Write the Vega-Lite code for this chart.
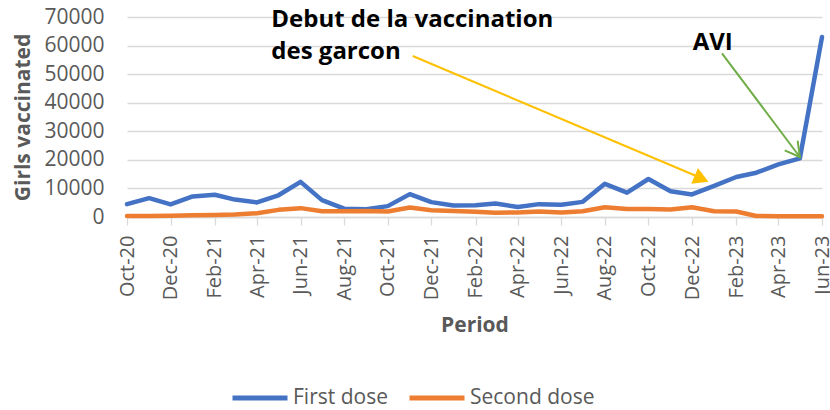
{
  "$schema": "https://vega.github.io/schema/vega-lite/v6.json",
  "width": 695,
  "height": 200,
  "autosize": {"type": "none"},
  "padding": {"left": 127, "top": 17, "right": 8, "bottom": 193},
  "background": "white",
  "config": {
    "view": {"stroke": null},
    "font": "Open Sans",
    "axisY": {
      "tickCount": 12,
      "format": "d",
      "titleFont": "Open Sans", "titleFontSize": 21, "titleFontWeight": "bold", "titleColor": "#595959",
      "titlePadding": 10,
      "labelFont": "Open Sans", "labelFontSize": 21, "labelColor": "#595959",
      "labelPadding": 23, "labelOverlap": false, "labelBound": false, "labelFlush": false,
      "ticks": false, "domain": false,
      "grid": true, "gridColor": "#D9D9D9", "gridWidth": 1.3
    },
    "axisX": {
      "tickCount": 40,
      "format": "%b-%y",
      "titleFont": "Open Sans", "titleFontSize": 21, "titleFontWeight": "bold", "titleColor": "#595959",
      "titlePadding": 14,
      "labelAngle": -90, "labelAlign": "right", "labelBaseline": "middle",
      "labelFont": "Open Sans", "labelFontSize": 20, "labelColor": "#595959",
      "labelPadding": 10, "labelOverlap": false, "labelFlush": false, "labelBound": false,
      "tickSize": 8, "tickColor": "#D9D9D9", "tickWidth": 1.3,
      "domainColor": "#D9D9D9", "domainWidth": 1.3,
      "grid": false
    }
  },
  "datasets": {
    "series": [
      {"month": "2020-10-01T00:00:00", "dose": "First dose", "girls": 4500},
      {"month": "2020-11-01T00:00:00", "dose": "First dose", "girls": 6600},
      {"month": "2020-12-01T00:00:00", "dose": "First dose", "girls": 4400},
      {"month": "2021-01-01T00:00:00", "dose": "First dose", "girls": 7200},
      {"month": "2021-02-01T00:00:00", "dose": "First dose", "girls": 7800},
      {"month": "2021-03-01T00:00:00", "dose": "First dose", "girls": 6100},
      {"month": "2021-04-01T00:00:00", "dose": "First dose", "girls": 5100},
      {"month": "2021-05-01T00:00:00", "dose": "First dose", "girls": 7600},
      {"month": "2021-06-01T00:00:00", "dose": "First dose", "girls": 12300},
      {"month": "2021-07-01T00:00:00", "dose": "First dose", "girls": 5900},
      {"month": "2021-08-01T00:00:00", "dose": "First dose", "girls": 2900},
      {"month": "2021-09-01T00:00:00", "dose": "First dose", "girls": 2700},
      {"month": "2021-10-01T00:00:00", "dose": "First dose", "girls": 3800},
      {"month": "2021-11-01T00:00:00", "dose": "First dose", "girls": 8000},
      {"month": "2021-12-01T00:00:00", "dose": "First dose", "girls": 5200},
      {"month": "2022-01-01T00:00:00", "dose": "First dose", "girls": 4000},
      {"month": "2022-02-01T00:00:00", "dose": "First dose", "girls": 4100},
      {"month": "2022-03-01T00:00:00", "dose": "First dose", "girls": 4700},
      {"month": "2022-04-01T00:00:00", "dose": "First dose", "girls": 3500},
      {"month": "2022-05-01T00:00:00", "dose": "First dose", "girls": 4500},
      {"month": "2022-06-01T00:00:00", "dose": "First dose", "girls": 4300},
      {"month": "2022-07-01T00:00:00", "dose": "First dose", "girls": 5300},
      {"month": "2022-08-01T00:00:00", "dose": "First dose", "girls": 11600},
      {"month": "2022-09-01T00:00:00", "dose": "First dose", "girls": 8500},
      {"month": "2022-10-01T00:00:00", "dose": "First dose", "girls": 13300},
      {"month": "2022-11-01T00:00:00", "dose": "First dose", "girls": 9000},
      {"month": "2022-12-01T00:00:00", "dose": "First dose", "girls": 7900},
      {"month": "2023-01-01T00:00:00", "dose": "First dose", "girls": 10900},
      {"month": "2023-02-01T00:00:00", "dose": "First dose", "girls": 14000},
      {"month": "2023-03-01T00:00:00", "dose": "First dose", "girls": 15500},
      {"month": "2023-04-01T00:00:00", "dose": "First dose", "girls": 18400},
      {"month": "2023-05-01T00:00:00", "dose": "First dose", "girls": 20500},
      {"month": "2023-06-01T00:00:00", "dose": "First dose", "girls": 63000},
      {"month": "2020-10-01T00:00:00", "dose": "Second dose", "girls": 350},
      {"month": "2020-11-01T00:00:00", "dose": "Second dose", "girls": 350},
      {"month": "2020-12-01T00:00:00", "dose": "Second dose", "girls": 450},
      {"month": "2021-01-01T00:00:00", "dose": "Second dose", "girls": 600},
      {"month": "2021-02-01T00:00:00", "dose": "Second dose", "girls": 700},
      {"month": "2021-03-01T00:00:00", "dose": "Second dose", "girls": 900},
      {"month": "2021-04-01T00:00:00", "dose": "Second dose", "girls": 1300},
      {"month": "2021-05-01T00:00:00", "dose": "Second dose", "girls": 2500},
      {"month": "2021-06-01T00:00:00", "dose": "Second dose", "girls": 3100},
      {"month": "2021-07-01T00:00:00", "dose": "Second dose", "girls": 2000},
      {"month": "2021-08-01T00:00:00", "dose": "Second dose", "girls": 2000},
      {"month": "2021-09-01T00:00:00", "dose": "Second dose", "girls": 2100},
      {"month": "2021-10-01T00:00:00", "dose": "Second dose", "girls": 1900},
      {"month": "2021-11-01T00:00:00", "dose": "Second dose", "girls": 3300},
      {"month": "2021-12-01T00:00:00", "dose": "Second dose", "girls": 2400},
      {"month": "2022-01-01T00:00:00", "dose": "Second dose", "girls": 2100},
      {"month": "2022-02-01T00:00:00", "dose": "Second dose", "girls": 1800},
      {"month": "2022-03-01T00:00:00", "dose": "Second dose", "girls": 1500},
      {"month": "2022-04-01T00:00:00", "dose": "Second dose", "girls": 1600},
      {"month": "2022-05-01T00:00:00", "dose": "Second dose", "girls": 1900},
      {"month": "2022-06-01T00:00:00", "dose": "Second dose", "girls": 1600},
      {"month": "2022-07-01T00:00:00", "dose": "Second dose", "girls": 2000},
      {"month": "2022-08-01T00:00:00", "dose": "Second dose", "girls": 3400},
      {"month": "2022-09-01T00:00:00", "dose": "Second dose", "girls": 2800},
      {"month": "2022-10-01T00:00:00", "dose": "Second dose", "girls": 2800},
      {"month": "2022-11-01T00:00:00", "dose": "Second dose", "girls": 2600},
      {"month": "2022-12-01T00:00:00", "dose": "Second dose", "girls": 3400},
      {"month": "2023-01-01T00:00:00", "dose": "Second dose", "girls": 2000},
      {"month": "2023-02-01T00:00:00", "dose": "Second dose", "girls": 1900},
      {"month": "2023-03-01T00:00:00", "dose": "Second dose", "girls": 350},
      {"month": "2023-04-01T00:00:00", "dose": "Second dose", "girls": 300},
      {"month": "2023-05-01T00:00:00", "dose": "Second dose", "girls": 300},
      {"month": "2023-06-01T00:00:00", "dose": "Second dose", "girls": 300}
    ],
    "arrows": [
      {"note": "boys", "from": "2021-11-05T00:00:00", "fromGirls": 56350, "to": "2022-12-07T00:00:00", "toGirls": 14350, "tip": "2022-12-24T00:00:00", "tipGirls": 12350},
      {"note": "avi", "from": "2023-01-12T00:00:00", "fromGirls": 57300, "to": "2023-05-01T00:00:00", "toGirls": 21000, "tip": "2023-05-01T00:00:00", "tipGirls": 21000}
    ],
    "labels": [
      {"text": "Debut de la vaccination", "at": "2021-04-21T00:00:00", "girls": 68950},
      {"text": "des garcon", "at": "2021-04-21T00:00:00", "girls": 57750}
    ],
    "avi": [
      {"text": "AVI", "at": "2022-12-30T00:00:00", "girls": 60730}
    ]
  },
  "layer": [
    {
      "data": {"name": "series"},
      "mark": {"type": "line", "strokeWidth": 4.5, "strokeCap": "round", "strokeJoin": "round"},
      "encoding": {
        "x": {
          "field": "month", "type": "temporal", "title": "Period",
          "scale": {"domain": [{"year": 2020, "month": 10, "date": 1}, {"year": 2023, "month": 6, "date": 1}]},
          "axis": {
            "title": "Period",
            "tickCount": 40,
            "values": [
              {"year": 2020, "month": 10, "date": 1}, {"year": 2020, "month": 12, "date": 1},
              {"year": 2021, "month": 2, "date": 1}, {"year": 2021, "month": 4, "date": 1},
              {"year": 2021, "month": 6, "date": 1}, {"year": 2021, "month": 8, "date": 1},
              {"year": 2021, "month": 10, "date": 1}, {"year": 2021, "month": 12, "date": 1},
              {"year": 2022, "month": 2, "date": 1}, {"year": 2022, "month": 4, "date": 1},
              {"year": 2022, "month": 6, "date": 1}, {"year": 2022, "month": 8, "date": 1},
              {"year": 2022, "month": 10, "date": 1}, {"year": 2022, "month": 12, "date": 1},
              {"year": 2023, "month": 2, "date": 1}, {"year": 2023, "month": 4, "date": 1},
              {"year": 2023, "month": 6, "date": 1}
            ]
          }
        },
        "y": {
          "field": "girls", "type": "quantitative", "title": "Girls vaccinated",
          "scale": {"domain": [0, 70000], "nice": false},
          "axis": {"title": "Girls vaccinated", "tickCount": 12, "values": [0, 10000, 20000, 30000, 40000, 50000, 60000, 70000], "labelOverlap": false}
        },
        "color": {
          "field": "dose", "type": "nominal",
          "scale": {"domain": ["First dose", "Second dose"], "range": ["#4472C4", "#ED7D31"]},
          "legend": {
            "title": null, "orient": "none", "legendX": 103, "legendY": 351,
            "direction": "horizontal",
            "symbolType": "stroke", "symbolSize": 3025, "symbolStrokeWidth": 5,
            "labelFont": "Open Sans", "labelFontSize": 21, "labelColor": "#595959",
            "labelOffset": 3, "columnPadding": 11
          }
        },
        "order": {"field": "dose", "sort": "descending"}
      }
    },
    {
      "data": {"name": "arrows"},
      "transform": [{"filter": "datum.note === 'boys'"}],
      "mark": {"type": "rule", "color": "#FFC000", "strokeWidth": 2},
      "encoding": {
        "x": {"field": "from", "type": "temporal", "title": "Period"},
        "y": {"field": "fromGirls", "type": "quantitative", "title": "Girls vaccinated"},
        "x2": {"field": "to"},
        "y2": {"field": "toGirls"}
      }
    },
    {
      "data": {"name": "arrows"},
      "transform": [{"filter": "datum.note === 'boys'"}],
      "mark": {"type": "point", "shape": "M0,0L-1.5,-0.85L-1.5,0.85Z", "filled": true, "color": "#FFC000", "opacity": 1, "size": 400, "angle": 23},
      "encoding": {
        "x": {"field": "tip", "type": "temporal", "title": "Period"},
        "y": {"field": "tipGirls", "type": "quantitative", "title": "Girls vaccinated"}
      }
    },
    {
      "data": {"name": "arrows"},
      "transform": [{"filter": "datum.note === 'avi'"}],
      "mark": {"type": "rule", "color": "#70AD47", "strokeWidth": 2},
      "encoding": {
        "x": {"field": "from", "type": "temporal", "title": "Period"},
        "y": {"field": "fromGirls", "type": "quantitative", "title": "Girls vaccinated"},
        "x2": {"field": "to"},
        "y2": {"field": "toGirls"}
      }
    },
    {
      "data": {"name": "arrows"},
      "transform": [{"filter": "datum.note === 'avi'"}],
      "mark": {"type": "point", "shape": "M-1.6,-0.9L0,0L-1.6,0.9", "filled": false, "color": "#70AD47", "opacity": 1, "strokeWidth": 2, "size": 324, "angle": 53},
      "encoding": {
        "x": {"field": "tip", "type": "temporal", "title": "Period"},
        "y": {"field": "tipGirls", "type": "quantitative", "title": "Girls vaccinated"}
      }
    },
    {
      "data": {"name": "labels"},
      "mark": {"type": "text", "align": "left", "baseline": "middle", "font": "Open Sans", "fontSize": 24, "fontWeight": "bold", "color": "#000000"},
      "encoding": {
        "x": {"field": "at", "type": "temporal", "title": "Period"},
        "y": {"field": "girls", "type": "quantitative", "title": "Girls vaccinated"},
        "text": {"field": "text"}
      }
    },
    {
      "data": {"name": "avi"},
      "mark": {"type": "text", "align": "center", "baseline": "middle", "font": "Open Sans", "fontSize": 24, "fontWeight": "bold", "color": "#000000"},
      "encoding": {
        "x": {"field": "at", "type": "temporal", "title": "Period"},
        "y": {"field": "girls", "type": "quantitative", "title": "Girls vaccinated"},
        "text": {"field": "text"}
      }
    }
  ]
}
